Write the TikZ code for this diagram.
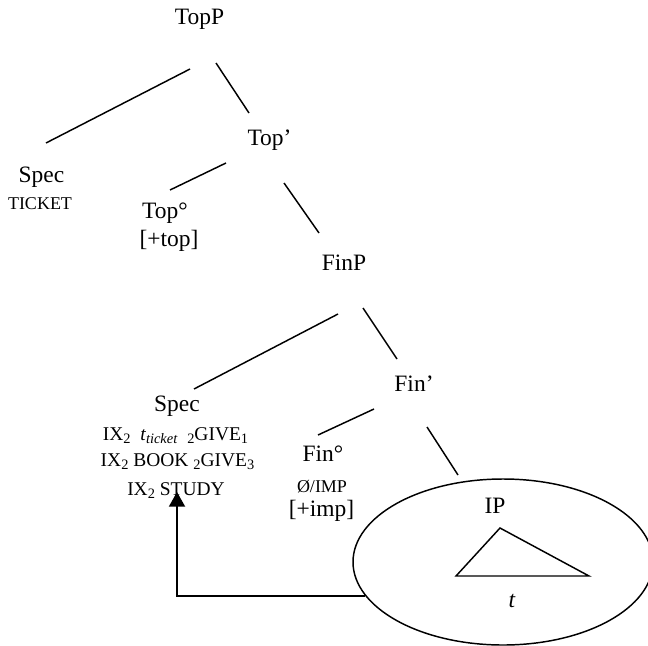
\documentclass[tikz,border=0pt]{standalone}
\usepackage{fontspec}
\setmainfont{Liberation Serif}
\usetikzlibrary{arrows.meta}
\usetikzlibrary{shapes.geometric}

\newcommand{\lowidx}[1]{\raisebox{-2.4pt}{\fontsize{10.8}{12}\selectfont #1}}

\begin{document}
\begin{tikzpicture}[x=0.75pt, y=-0.75pt,
    cat node/.style={anchor=base, inner sep=0pt, font=\fontsize{17.6}{20}\selectfont},
    feat node/.style={anchor=base, inner sep=0pt, font=\fontsize{13.5}{16}\selectfont},
    sign node/.style={anchor=base, inner sep=0pt, font=\fontsize{14.6}{17}\selectfont},
    branch/.style={line width=1.1pt},
    ]
  \useasboundingbox (0,0) rectangle (648,645);

  % labels of the tree
  \node[cat node] (topP) at (199.5,25) {TopP};
  \node[cat node] (specA) at (41.5,183) {Spec};
  \node[feat node] (ticket) at (40,209) {TICKET};
  \node[cat node] (topBar) at (269.5,146) {Top’};
  \node[cat node] (topHead) at (165,218) {Top°};
  \node[cat node] (topFeat) at (169,246) {[+top]};
  \node[cat node] (finP) at (344,270) {FinP};
  \node[cat node] (specB) at (177,411) {Spec};
  \node[sign node] (signA) at (175.5,440) {IX\lowidx{2}\enspace\textit{t}\lowidx{\textit{ticket}}\enspace\lowidx{2}GIVE\lowidx{1}};
  \node[sign node] (signB) at (177.5,466) {IX\lowidx{2} BOOK \lowidx{2}GIVE\lowidx{3}};
  \node[sign node] (signC) at (176,495) {IX\lowidx{2} STUDY};
  \node[cat node] (finBar) at (414,391) {Fin’};
  \node[cat node] (finHead) at (323,461) {Fin°};
  \node[feat node] (finSign) at (322,492) {Ø/IMP};
  \node[cat node] (finFeat) at (321.5,516) {[+imp]};

  % IP with its triangle
  \node[draw, ellipse, line width=1.1pt, minimum width=225pt, minimum height=124.5pt] (ipEll) at (503,562) {};
  \node[cat node] (ip) at (495,513) {IP};
  \node[cat node] (trace) at (512,607) {\textit{t}};
  \coordinate (tri-l) at (456,576);
  \coordinate (tri-t) at (500,528);
  \coordinate (tri-r) at (589,576);
  \draw[branch, line join=miter] (tri-l) -- (tri-t) -- (tri-r) -- cycle;

  % ends of the branches
  \coordinate (topP-l) at (190,69);   \coordinate (specA-t) at (46,143);
  \coordinate (topP-r) at (216,63);   \coordinate (topBar-t) at (249,113);
  \coordinate (topBar-l) at (226,163); \coordinate (topHead-t) at (170,190);
  \coordinate (topBar-r) at (284,183); \coordinate (finP-t) at (319,233);
  \coordinate (finP-l) at (338,314);  \coordinate (specB-t) at (194,389);
  \coordinate (finP-r) at (363,308);  \coordinate (finBar-t) at (397,359);
  \coordinate (finBar-l) at (374,409); \coordinate (finHead-t) at (318,435);
  \coordinate (finBar-r) at (427,427); \coordinate (ip-t) at (458,475);

  \draw[branch] (topP-l) -- (specA-t);
  \draw[branch] (topP-r) -- (topBar-t);
  \draw[branch] (topBar-l) -- (topHead-t);
  \draw[branch] (topBar-r) -- (finP-t);
  \draw[branch] (finP-l) -- (specB-t);
  \draw[branch] (finP-r) -- (finBar-t);
  \draw[branch] (finBar-l) -- (finHead-t);
  \draw[branch] (finBar-r) -- (ip-t);

  % movement of the trace
  \coordinate (study-tip) at (177,492);
  \draw[line width=1.4pt, -{Triangle[width=12pt, length=11pt]}] (ipEll.194) -| (study-tip);
\end{tikzpicture}
\end{document}
